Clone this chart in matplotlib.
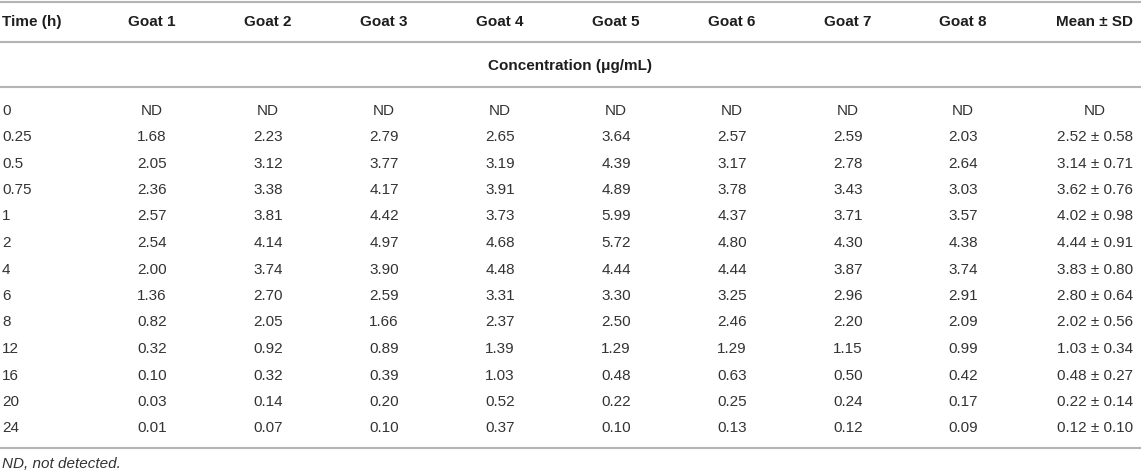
import matplotlib.pyplot as plt

plt.rcParams['font.family'] = ['Liberation Sans', 'DejaVu Sans']

## table content
headers = ['Time (h)', 'Goat 1', 'Goat 2', 'Goat 3', 'Goat 4', 'Goat 5',
           'Goat 6', 'Goat 7', 'Goat 8', 'Mean \u00b1 SD']
times = ['0', '0.25', '0.5', '0.75', '1', '2', '4', '6', '8', '12', '16', '20', '24']
goat1 = ['ND', '1.68', '2.05', '2.36', '2.57', '2.54', '2.00', '1.36', '0.82', '0.32', '0.10', '0.03', '0.01']
goat2 = ['ND', '2.23', '3.12', '3.38', '3.81', '4.14', '3.74', '2.70', '2.05', '0.92', '0.32', '0.14', '0.07']
goat3 = ['ND', '2.79', '3.77', '4.17', '4.42', '4.97', '3.90', '2.59', '1.66', '0.89', '0.39', '0.20', '0.10']
goat4 = ['ND', '2.65', '3.19', '3.91', '3.73', '4.68', '4.48', '3.31', '2.37', '1.39', '1.03', '0.52', '0.37']
goat5 = ['ND', '3.64', '4.39', '4.89', '5.99', '5.72', '4.44', '3.30', '2.50', '1.29', '0.48', '0.22', '0.10']
goat6 = ['ND', '2.57', '3.17', '3.78', '4.37', '4.80', '4.44', '3.25', '2.46', '1.29', '0.63', '0.25', '0.13']
goat7 = ['ND', '2.59', '2.78', '3.43', '3.71', '4.30', '3.87', '2.96', '2.20', '1.15', '0.50', '0.24', '0.12']
goat8 = ['ND', '2.03', '2.64', '3.03', '3.57', '4.38', '3.74', '2.91', '2.09', '0.99', '0.42', '0.17', '0.09']
mean_sd = ['ND', '2.52 \u00b1 0.58', '3.14 \u00b1 0.71', '3.62 \u00b1 0.76', '4.02 \u00b1 0.98',
           '4.44 \u00b1 0.91', '3.83 \u00b1 0.80', '2.80 \u00b1 0.64', '2.02 \u00b1 0.56',
           '1.03 \u00b1 0.34', '0.48 \u00b1 0.27', '0.22 \u00b1 0.14', '0.12 \u00b1 0.10']
subheader = 'Concentration (\u03bcg/mL)'
footnote = 'ND, not detected.'

columns = [times, goat1, goat2, goat3, goat4, goat5, goat6, goat7, goat8, mean_sd]
col_x = [2, 152, 268, 384, 500, 616, 732, 848, 963, 1095]

W, H = 1141, 474
fig = plt.figure(figsize=(W / 100, H / 100), dpi=100)
ax = fig.add_axes([0, 0, 1, 1])
ax.set_xlim(0, W)
ax.set_ylim(H, 0)
ax.axis('off')

fs = 11
line_col = '#b4b4b4'
for y in [2, 42, 87, 448]:
    ax.plot([0, W], [y, y], color=line_col, lw=1.5, solid_capstyle='butt')

# header row
for i, h in enumerate(headers):
    ha = 'left' if i == 0 else 'center'
    ax.text(col_x[i], 22, h, ha=ha, va='center', fontsize=fs, fontweight='bold', color='#1e1e1e')

ax.text(570, 66, subheader, ha='center', va='center', fontsize=fs, fontweight='bold', color='#1e1e1e')

row_y0, row_dy = 110.5, 26.5
for i, col in enumerate(columns):
    ha = 'left' if i == 0 else 'center'
    for r, val in enumerate(col):
        ax.text(col_x[i], row_y0 + r * row_dy, val, ha=ha, va='center', fontsize=fs, color='#333333')

ax.text(2, 464, footnote, ha='left', va='center', fontsize=fs, style='italic', color='#333333')

fig.savefig('out.png', dpi=100)
